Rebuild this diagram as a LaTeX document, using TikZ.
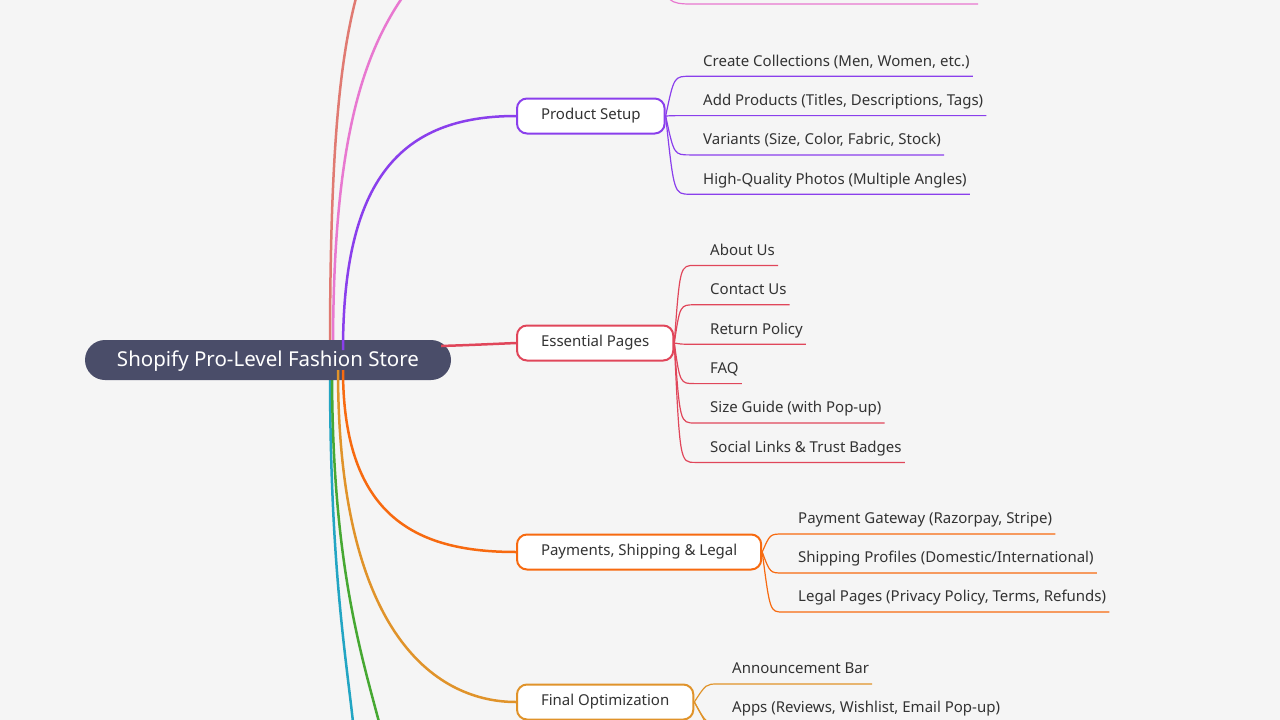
\documentclass[tikz,border=0pt]{standalone}
\usepackage{fontspec}
\setmainfont{Noto Sans}
\definecolor{bgcol}{HTML}{F5F5F5}
\definecolor{rootcol}{HTML}{4A4D69}
\definecolor{cpurple}{HTML}{8A3FEC}
\definecolor{cred}{HTML}{E0465A}
\definecolor{corange}{HTML}{F76A10}
\definecolor{cgold}{HTML}{E0932A}
\definecolor{cgreen}{HTML}{46A832}
\definecolor{cteal}{HTML}{22A5C3}
\definecolor{csalmon}{HTML}{E07A72}
\definecolor{cpink}{HTML}{E878D0}
\definecolor{txtcol}{HTML}{333333}
\tikzset{
  rootnode/.style={fill=rootcol, text=white, rounded corners=20pt, minimum width=366pt, minimum height=40pt, text height=15pt, text depth=2pt, font=\fontsize{20.5}{24}\selectfont},
  topicbox/.style={draw=#1, line width=2pt, fill=white, rounded corners=10pt, minimum height=35pt, inner xsep=24pt, anchor=west, text=txtcol, font=\fontsize{15}{17}\selectfont},
  leaftext/.style={anchor=south west, inner xsep=3pt, inner ysep=7pt, text height=11pt, text depth=3pt, text=txtcol, font=\fontsize{15}{17}\selectfont},
  branch/.style={draw=#1, line width=2.5pt},
  twig/.style={draw=#1, line width=1.2pt}
}
\begin{document}
\begin{tikzpicture}[x=1pt,y=-1pt]
  \useasboundingbox[fill=bgcol] (0,0) rectangle (1280,720);

  % off-canvas ends
  \coordinate (salmonend) at (356,-2);
  \coordinate (pinkend) at (402,-2);
  \coordinate (greenend) at (379,722);
  \coordinate (tealend) at (353,722);
  \draw[twig=cpink] (665,-20) .. controls (665,0) and (670,4) .. (690,4) -- (978,4);

  % main branches (drawn below the root)
  \draw[branch=csalmon] (330,350) .. controls (330,150) and (340,60) .. (salmonend);
  \draw[branch=cpink] (333,350) .. controls (333,150) and (360,60) .. (pinkend);
  \draw[branch=cteal] (330,370) .. controls (330,560) and (345,650) .. (tealend);
  \draw[branch=cgreen] (332,370) .. controls (332,560) and (360,650) .. (greenend);

  \node[rootnode] (root) at (268,360) {Shopify Pro-Level Fashion Store};

  \node[topicbox=cpurple] (prod) at (516,116) {Product Setup};
  \node[topicbox=cred] (pages) at (516,343) {Essential Pages};
  \node[topicbox=corange] (pay) at (516,552) {Payments, Shipping \& Legal};
  \node[topicbox=cgold] (final) at (516,702) {Final Optimization};

  \draw[branch=cpurple] (343,350) .. controls (343,180) and (400,116) .. (prod.west);
  \draw[branch=cred] (root.east) ++(-10,-14) .. controls (470,345) .. (pages.west);
  \draw[branch=corange] (343,370) .. controls (343,520) and (420,552) .. (pay.west);
  \draw[branch=cgold] (338,370) .. controls (338,640) and (440,702) .. (final.west);

  % leaves
  \foreach \t [count=\i] in {Create Collections (Men{,} Women{,} etc.), Add Products (Titles{,} Descriptions{,} Tags), Variants (Size{,} Color{,} Fabric{,} Stock), High-Quality Photos (Multiple Angles)} {
    \node[leaftext] (prod\i) at (700,37+39.3*\i) {\t};
    \draw[twig=cpurple] (prod.east) .. controls (674,37+39.3*\i) .. (690,37+39.3*\i) -- (prod\i.south east);
  }
  \foreach \t [count=\i] in {About Us, Contact Us, Return Policy, FAQ, Size Guide (with Pop-up), Social Links \& Trust Badges} {
    \node[leaftext] (pages\i) at (707,226+39.4*\i) {\t};
    \draw[twig=cred] (pages.east) .. controls (680,226+39.4*\i) .. (695,226+39.4*\i) -- (pages\i.south east);
  }
  \foreach \t [count=\i] in {Payment Gateway (Razorpay{,} Stripe), Shipping Profiles (Domestic/International), Legal Pages (Privacy Policy{,} Terms{,} Refunds)} {
    \node[leaftext] (pay\i) at (795,495+39*\i) {\t};
    \draw[twig=corange] (pay.east) .. controls (770,495+39*\i) .. (783,495+39*\i) -- (pay\i.south east);
  }
  \foreach \t [count=\i] in {Announcement Bar, Apps (Reviews{,} Wishlist{,} Email Pop-up)} {
    \node[leaftext] (final\i) at (729,645+39*\i) {\t};
    \draw[twig=cgold] (final.east) .. controls (706,645+39*\i) .. (718,645+39*\i) -- (final\i.south east);
  }
  \draw[twig=cgold] (final.east) -- ++(12,22);
\end{tikzpicture}
\end{document}
